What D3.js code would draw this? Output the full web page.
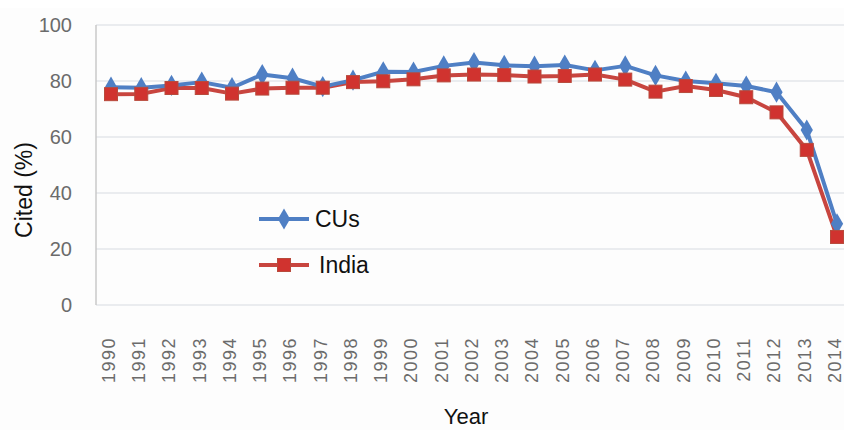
<!DOCTYPE html>
<html lang="en">
<head>
    <meta charset="UTF-8">
    <title>Cited (%) by Year</title>
    <script src="https://d3js.org/d3.v7.min.js"></script>
    <style>
        body { margin: 0; background: #ffffff; font-family: "Liberation Sans", Arial, sans-serif; }
        svg { display: block; }
    </style>
</head>
<body>
    <div id="container"></div>
    <script>
        // data
        const years = ['1990','1991','1992','1993','1994','1995','1996','1997','1998','1999','2000','2001','2002',
                       '2003','2004','2005','2006','2007','2008','2009','2010','2011','2012','2013','2014'];
        const cusValues = [77.8, 77.6, 78.4, 79.6, 77.6, 82.3, 81.0, 78.0, 80.3, 83.3, 83.2, 85.4, 86.6,
                           85.6, 85.3, 85.7, 83.8, 85.4, 82.0, 80.0, 79.2, 78.2, 76.0, 62.5, 29.0];
        const indiaValues = [75.3, 75.4, 77.5, 77.5, 75.5, 77.3, 77.6, 77.6, 79.6, 79.9, 80.6, 82.0, 82.3,
                             82.1, 81.6, 81.8, 82.3, 80.5, 76.2, 78.2, 76.8, 74.2, 68.8, 55.4, 24.3];
        const yTicks = [0, 20, 40, 60, 80, 100];

        const width = 844, height = 430;
        const plotLeft = 96, plotRight = 844, plotTop = 25, plotBottom = 305;

        const svg = d3.select('#container').append('svg')
            .attr('width', width)
            .attr('height', height);

        // light plot background
        svg.append('rect')
            .attr('x', 0).attr('y', 8)
            .attr('width', width).attr('height', 425)
            .attr('fill', '#fdfdfd');

        const x = d3.scalePoint()
            .domain(years)
            .range([111, 837]);

        const y = d3.scaleLinear()
            .domain([0, 100])
            .range([plotBottom, plotTop]);

        // gridlines
        svg.append('g')
            .selectAll('line')
            .data(yTicks).enter()
            .append('line')
            .attr('x1', plotLeft)
            .attr('x2', plotRight)
            .attr('y1', d => y(d))
            .attr('y2', d => y(d))
            .attr('stroke', '#e3e6ea')
            .attr('stroke-width', 1.5);

        // vertical axis line
        svg.append('line')
            .attr('x1', plotLeft).attr('x2', plotLeft)
            .attr('y1', plotTop).attr('y2', plotBottom)
            .attr('stroke', '#c8c8c8')
            .attr('stroke-width', 1.5);

        // y axis labels
        const yAxis = d3.axisLeft(y).tickValues(yTicks).tickSize(0).tickPadding(24);
        const yG = svg.append('g')
            .attr('transform', `translate(${plotLeft},0)`)
            .call(yAxis);
        yG.select('.domain').remove();
        yG.selectAll('text')
            .attr('font-family', '"Liberation Sans", Arial, sans-serif')
            .attr('font-size', 20)
            .attr('fill', '#6b6b6b');

        // x axis labels (rotated)
        const xAxis = d3.axisBottom(x).tickSize(0);
        const xG = svg.append('g')
            .attr('transform', `translate(-3,${plotBottom})`)
            .call(xAxis);
        xG.select('.domain').remove();
        xG.selectAll('text')
            .attr('font-family', '"Liberation Sans", Arial, sans-serif')
            .attr('font-size', 18)
            .attr('letter-spacing', 1.5)
            .attr('fill', '#6b6b6b')
            .attr('transform', 'rotate(-90)')
            .attr('text-anchor', 'end')
            .attr('dy', '0.35em')
            .attr('dx', '0')
            .attr('x', -32)
            .attr('y', 0);

        // axis titles
        svg.append('text')
            .attr('transform', 'translate(32,190) rotate(-90)')
            .attr('text-anchor', 'middle')
            .attr('font-size', 23)
            .attr('fill', '#111')
            .text('Cited (%)');

        svg.append('text')
            .attr('x', 466)
            .attr('y', 424)
            .attr('text-anchor', 'middle')
            .attr('font-size', 22)
            .attr('fill', '#111')
            .text('Year');

        const line = d3.line()
            .x((d, i) => x(years[i]))
            .y(d => y(d));

        const blue = '#4f7fc4';
        const red = '#c8453f';

        // India series (drawn first, underneath)
        svg.append('path')
            .datum(indiaValues)
            .attr('fill', 'none')
            .attr('stroke', red)
            .attr('stroke-width', 4)
            .attr('stroke-linejoin', 'round')
            .attr('d', line);

        // CUs series
        svg.append('path')
            .datum(cusValues)
            .attr('fill', 'none')
            .attr('stroke', blue)
            .attr('stroke-width', 4)
            .attr('stroke-linejoin', 'round')
            .attr('d', line);

        const diamond = d3.symbol().type(d3.symbolDiamond).size(130);

        svg.append('g')
            .selectAll('path')
            .data(cusValues).enter()
            .append('path')
            .attr('d', diamond)
            .attr('transform', (d, i) => `translate(${x(years[i])},${y(d)})`)
            .attr('fill', blue);

        svg.append('g')
            .selectAll('rect')
            .data(indiaValues).enter()
            .append('rect')
            .attr('x', (d, i) => x(years[i]) - 6.5)
            .attr('y', d => y(d) - 6.5)
            .attr('width', 13)
            .attr('height', 13)
            .attr('fill', '#d0332f')
            .attr('stroke', '#b84a3c')
            .attr('stroke-width', 1);

        // legend
        const legend = svg.append('g');
        legend.append('line')
            .attr('x1', 259).attr('x2', 309)
            .attr('y1', 219).attr('y2', 219)
            .attr('stroke', blue).attr('stroke-width', 4);
        legend.append('path')
            .attr('d', diamond)
            .attr('transform', 'translate(284,219)')
            .attr('fill', blue);
        legend.append('text')
            .attr('x', 315).attr('y', 227)
            .attr('font-size', 23)
            .attr('fill', '#111')
            .text('CUs');

        legend.append('line')
            .attr('x1', 259).attr('x2', 309)
            .attr('y1', 265).attr('y2', 265)
            .attr('stroke', red).attr('stroke-width', 4);
        legend.append('rect')
            .attr('x', 277.5).attr('y', 258.5)
            .attr('width', 13).attr('height', 13)
            .attr('fill', '#d0332f')
            .attr('stroke', '#b84a3c');
        legend.append('text')
            .attr('x', 319).attr('y', 273)
            .attr('font-size', 23)
            .attr('fill', '#111')
            .text('India');
    </script>
</body>
</html>
